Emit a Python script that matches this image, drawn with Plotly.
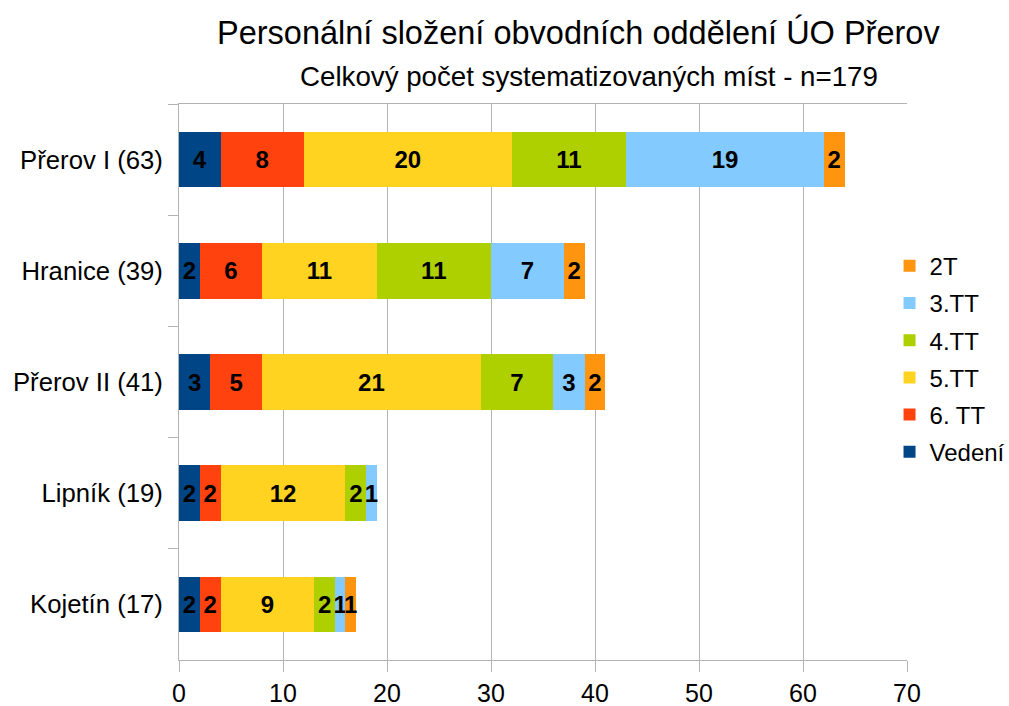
import plotly.graph_objects as go

categories = ["Přerov I (63)", "Hranice (39)", "Přerov II (41)", "Lipník (19)", "Kojetín (17)"]
series_names = ["Vedení", "6. TT", "5.TT", "4.TT", "3.TT", "2T"]
vedeni = [4, 2, 3, 2, 2]
tt6 = [8, 6, 5, 2, 2]
tt5 = [20, 11, 21, 12, 9]
tt4 = [11, 11, 7, 2, 2]
tt3 = [19, 7, 3, 1, 1]
t2 = [2, 2, 2, 0, 1]
colors = ["#004586", "#ff420e", "#ffd320", "#aecf00", "#83caff", "#ff950e"]
x_ticks = [0, 10, 20, 30, 40, 50, 60, 70]

FONT = "Liberation Sans, Arial, sans-serif"
fig = go.Figure()
for i, (name, vals, col) in enumerate(zip(series_names, [vedeni, tt6, tt5, tt4, tt3, t2], colors)):
    fig.add_trace(go.Bar(
        y=categories, x=vals, name=name, orientation="h", legendgroup=name,
        legendrank=1000 - i,
        marker=dict(color=col, line=dict(width=0)),
        text=[str(v) if v else "" for v in vals],
        textposition="inside", insidetextanchor="middle",
        textfont=dict(family=FONT, size=24, color="black", weight="bold"),
        textangle=0, cliponaxis=False,
    ))

grid = "#b3b3b3"
fig.update_layout(
    barmode="stack", bargap=0.5,
    width=1009, height=706,
    margin=dict(l=179, r=102, t=104, b=46, autoexpand=False),
    plot_bgcolor="white", paper_bgcolor="white",
    font=dict(family=FONT, size=24, color="black"),
    uniformtext=dict(minsize=24, mode="show"),
    legend=dict(traceorder="grouped", x=0.976, xanchor="left", y=0.541, yanchor="middle",
                font=dict(size=24), itemwidth=30, tracegroupgap=3, bgcolor="rgba(0,0,0,0)"),
    xaxis=dict(range=[0, 70], tickvals=x_ticks, showgrid=True, gridcolor=grid, gridwidth=1,
               zeroline=False, showline=True, linecolor=grid, mirror=True, automargin=False,
               ticks="outside", ticklen=11, tickcolor=grid, tickfont=dict(size=25)),
    yaxis=dict(autorange="reversed", tickson="boundaries", ticks="outside", ticklen=10,
               tickcolor=grid, showline=True, linecolor=grid, showgrid=False, automargin=False,
               ticklabelstandoff=10, tickfont=dict(size=25.7)),
    annotations=[
        dict(text="Personální složení obvodních oddělení ÚO Přerov", xref="paper", yref="paper",
             x=0.549, y=(660 - 33) / 556, xanchor="center", yanchor="middle", showarrow=False,
             font=dict(size=32.5, color="black")),
        dict(text="Celkový počet systematizovaných míst - n=179", xref="paper", yref="paper",
             x=0.563, y=(660 - 76) / 556, xanchor="center", yanchor="middle", showarrow=False,
             font=dict(size=27.7, color="black")),
    ],
)
fig.write_html("out.html", config={"displayModeBar": False},
               post_script="document.body.style.margin='0';document.body.style.overflow='hidden';")
